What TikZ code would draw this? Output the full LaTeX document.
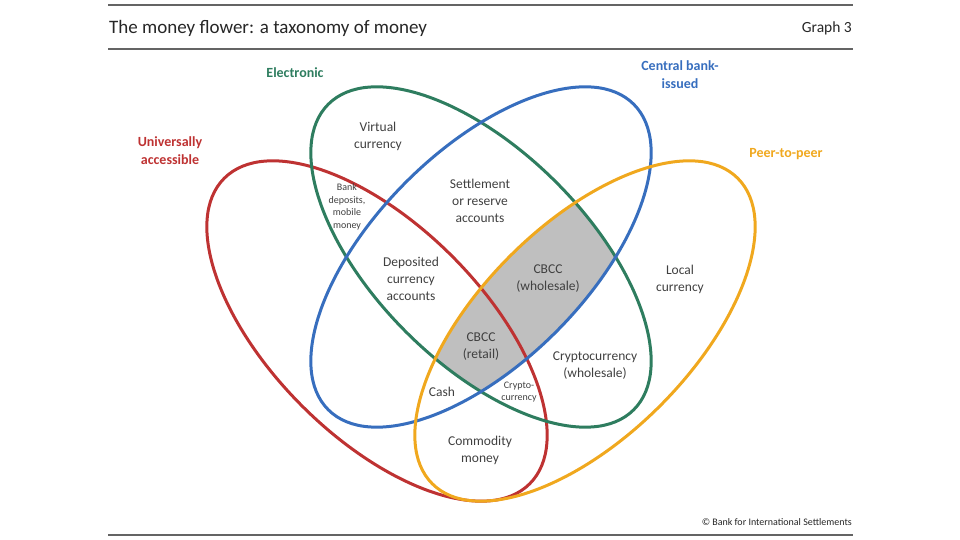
\documentclass[tikz,border=0pt]{standalone}
\usepackage{fontspec}
\setmainfont{Carlito}
\usetikzlibrary{positioning}
\definecolor{bisred}{RGB}{190,50,50}
\definecolor{bisgreen}{RGB}{46,125,95}
\definecolor{bisblue}{RGB}{55,110,190}
\definecolor{bisyellow}{RGB}{240,168,30}
\definecolor{bistext}{RGB}{64,64,64}
\definecolor{bisrule}{RGB}{100,100,100}
\newcommand{\petalshape}[2]{(#1) ellipse [x radius=216, y radius=106, rotate=#2]}

\begin{document}
\begin{tikzpicture}[
  x=1pt, y=1pt,
  petal/.style={line width=3pt},
  lab/.style={align=center, text=bistext, inner sep=0pt, font=\fontsize{13.5}{17}\selectfont},
  tinylab/.style={align=center, text=bistext, inner sep=0pt, font=\fontsize{10}{12.5}\selectfont},
  setlab/.style={align=center, inner sep=0pt, font=\bfseries\fontsize{14}{18}\selectfont},
  rule/.style={draw=bisrule, line width=1.2pt}
]
\useasboundingbox (0,0) rectangle (960,540);
\coordinate (cRed) at (377,209);
\coordinate (cYel) at (585,209);
\coordinate (cMid) at (481,283);

% grey core: central bank-issued, peer-to-peer and electronic
\begin{scope}
  \clip \petalshape{cMid}{45};
  \clip \petalshape{cYel}{45};
  \fill[black!25] \petalshape{cMid}{-45};
\end{scope}

\draw[petal, bisred] \petalshape{cRed}{-45};
\draw[petal, bisgreen] \petalshape{cMid}{-45};
\draw[petal, bisblue] \petalshape{cMid}{45};
\draw[petal, bisyellow] \petalshape{cYel}{45};

% header and footer
\coordinate (ruleL) at (108,535);
\coordinate (ruleR) at (853,535);
\draw[rule] (ruleL) -- (ruleR);
\draw[rule] (108,491) -- (853,491);
\draw[rule] (108,5) -- (853,5);
\node[anchor=west, text=black!85, inner sep=0pt, font=\fontsize{19}{23}\selectfont] (title) at (109,512) {The money flower: a taxonomy of money};
\node[anchor=east, text=black!85, inner sep=0pt, font=\fontsize{15.5}{19}\selectfont] (graph) at (852,512) {Graph 3};
\node[anchor=east, text=black!85, inner sep=0pt, font=\fontsize{10}{12}\selectfont] (source) at (852,18) {\textcopyright{} Bank for International Settlements};

% set names
\node[setlab, text=bisgreen] (electronic) at (295,467) {Electronic};
\node[setlab, text=bisblue] (cbissued) at (680,465) {Central bank-\\issued};
\node[setlab, text=bisred] (universal) at (170,389) {Universally\\accessible};
\node[setlab, text=bisyellow] (p2p) at (786,386) {Peer-to-peer};

% regions
\node[lab] (virtual) at (378,404) {Virtual\\currency};
\node[lab] (settle) at (480,339) {Settlement\\or reserve\\accounts};
\node[tinylab] (bankdep) at (347,333) {Bank\\deposits,\\mobile\\money};
\node[lab] (deposited) at (411,261) {Deposited\\currency\\accounts};
\node[lab] (cbccw) at (548,261) {CBCC\\(wholesale)};
\node[lab] (local) at (680,261) {Local\\currency};
\node[lab] (cbccr) at (481,193) {CBCC\\(retail)};
\node[lab] (cryptow) at (595,174) {Cryptocurrency\\(wholesale)};
\node[lab] (cash) at (442,148) {Cash};
\node[tinylab] (crypto) at (519,148) {Crypto-\\currency};
\node[lab] (commodity) at (480,90) {Commodity\\money};
\end{tikzpicture}
\end{document}
